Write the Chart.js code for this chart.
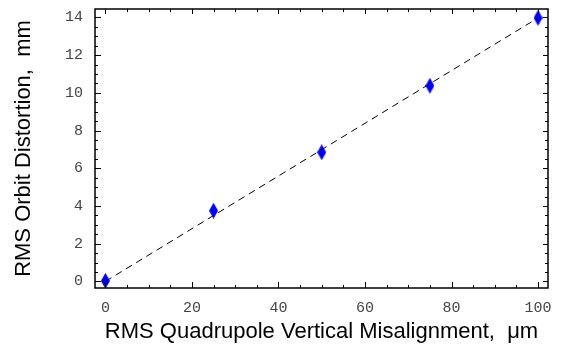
<!DOCTYPE html>
<html>
<head>
<meta charset="utf-8">
<script src="https://cdn.jsdelivr.net/npm/chart.js@4"></script>
<style>
  html, body { margin: 0; padding: 0; background: #fff; }
  #wrap { width: 565px; height: 347px; }
</style>
</head>
<body>
<div id="wrap"><canvas id="chart"></canvas></div>
<script>
const ctx = document.getElementById("chart");

// data
const misalignment = [0, 25, 50, 75, 100];
const distortion = [0.03, 3.75, 6.85, 10.38, 13.98];
const fitX = [0, 100];
const fitY = [0, 13.98];
const xTicks = [0, 20, 40, 60, 80, 100];
const yTicks = [0, 2, 4, 6, 8, 10, 12, 14];

// tall blue diamond marker
function diamond() {
  const c = document.createElement("canvas");
  c.width = 9;
  c.height = 16;
  const g = c.getContext("2d");
  g.fillStyle = "#0000ff";
  g.beginPath();
  g.moveTo(4.5, 0);
  g.lineTo(9, 8);
  g.lineTo(4.5, 16);
  g.lineTo(0, 8);
  g.closePath();
  g.fill();
  return c;
}

// frame with inward ticks on all four sides
const framePlugin = {
  id: "frame",
  afterDraw(chart) {
    const { ctx: g, chartArea: a, scales } = chart;
    const x = scales.x, y = scales.y;
    g.save();
    g.strokeStyle = "#000";
    g.lineWidth = 1;
    for (let v = 0; v <= 100; v += 5) {
      const px = Math.round(x.getPixelForValue(v)) + 0.5;
      const major = v % 20 === 0;
      g.beginPath();
      g.moveTo(px, a.bottom);
      g.lineTo(px, a.bottom - (major ? 6 : 3));
      g.moveTo(px, a.top);
      g.lineTo(px, a.top + (major ? 5 : 3));
      g.stroke();
    }
    for (let v = 0; v <= 14; v += 0.5) {
      const py = Math.round(y.getPixelForValue(v)) + 0.5;
      const major = v % 2 === 0;
      g.beginPath();
      g.moveTo(a.left, py);
      g.lineTo(a.left + (major ? 6 : 3), py);
      g.moveTo(a.right, py);
      g.lineTo(a.right - (major ? 5 : 3), py);
      g.stroke();
    }
    g.lineWidth = 1.5;
    g.strokeRect(a.left, a.top, a.right - a.left, a.bottom - a.top);
    g.restore();
  },
};

const tickFont = { family: "Liberation Mono", size: 15 };
const titleFont = { family: "Liberation Sans", size: 22 };

new Chart(ctx, {
  type: "scatter",
  data: {
    datasets: [
      {
        data: fitX.map((v, i) => ({ x: v, y: fitY[i] })),
        showLine: true,
        borderColor: "#000",
        borderWidth: 1,
        borderDash: [7, 5],
        pointRadius: 0,
        order: 0,
      },
      {
        data: misalignment.map((v, i) => ({ x: v, y: distortion[i] })),
        pointStyle: diamond(),
        pointRadius: 8,
        order: 1,
      },
    ],
  },
  options: {
    responsive: true,
    maintainAspectRatio: false,
    animation: false,
    layout: { padding: { left: 0, top: 7, right: 17, bottom: 0 } },
    scales: {
      x: {
        type: "linear",
        min: -2.4,
        max: 102.3,
        afterBuildTicks: (s) => { s.ticks = xTicks.map((v) => ({ value: v })); },
        afterFit: (s) => { s.height = 59; s.paddingLeft = 0; s.paddingRight = 0; },
        grid: { display: false, drawTicks: false },
        border: { display: false },
        ticks: { font: tickFont, color: "#444", padding: 11, maxRotation: 0 },
        title: {
          display: true,
          text: "RMS Quadrupole Vertical Misalignment,  μm",
          font: titleFont,
          color: "#000",
          padding: { top: 0, bottom: 2 },
        },
      },
      y: {
        type: "linear",
        min: -0.35,
        max: 14.45,
        afterBuildTicks: (s) => { s.ticks = yTicks.map((v) => ({ value: v })); },
        afterFit: (s) => { s.width = 95; s.paddingTop = 0; s.paddingBottom = 0; },
        grid: { display: false, drawTicks: false },
        border: { display: false },
        ticks: { font: tickFont, color: "#444", padding: 12 },
        title: {
          display: true,
          text: "RMS Orbit Distortion,  mm",
          font: titleFont,
          color: "#000",
          padding: { top: 11, bottom: 0 },
        },
      },
    },
    plugins: {
      legend: { display: false },
      tooltip: { enabled: false },
    },
  },
  plugins: [framePlugin],
});
</script>
</body>
</html>
